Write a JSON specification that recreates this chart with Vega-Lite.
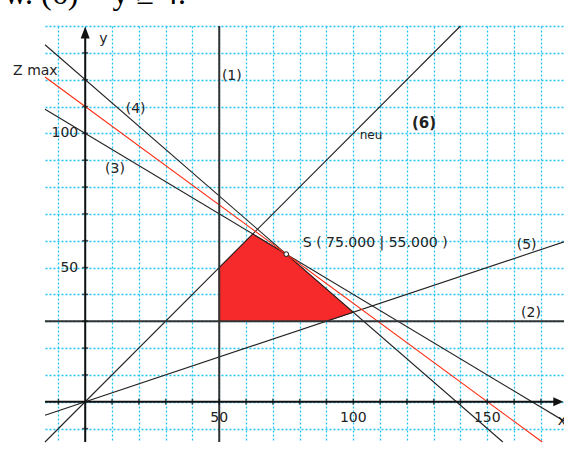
{
  "$schema": "https://vega.github.io/schema/vega-lite/v6.json",
  "width": 520,
  "height": 416,
  "padding": {"left": 45, "top": 26, "right": 0, "bottom": 10},
  "autosize": {"type": "none"},
  "background": "white",
  "config": {"view": {"stroke": null}, "text": {"font": "DejaVu Sans", "fontSize": 14, "color": "#222"}},
  "datasets": {
    "thin": [
      {"line": "(3)", "x": -15, "y": 109}, {"line": "(3)", "x": 179, "y": -7.4},
      {"line": "(4)", "x": -15, "y": 133}, {"line": "(4)", "x": 155.8, "y": -15},
      {"line": "(5)", "x": -15, "y": -5}, {"line": "(5)", "x": 179, "y": 59.7},
      {"line": "neu", "x": -15, "y": -15}, {"line": "neu", "x": 140, "y": 140}
    ],
    "bold": [
      {"line": "(1)", "x": 50, "y": -15}, {"line": "(1)", "x": 50, "y": 140},
      {"line": "(2)", "x": -15, "y": 30}, {"line": "(2)", "x": 179, "y": 30}
    ],
    "zmax": [{"x": -15, "y": 121}, {"x": 170.5, "y": -15}],
    "axes": [
      {"axis": "x", "x": -15, "y": 0}, {"axis": "x", "x": 176, "y": 0},
      {"axis": "y", "x": 0, "y": -15}, {"axis": "y", "x": 0, "y": 137}
    ],
    "region": [
      {"o": 1, "x": 50, "y": 30}, {"o": 2, "x": 50, "y": 50}, {"o": 3, "x": 62.5, "y": 62.5},
      {"o": 4, "x": 75, "y": 55}, {"o": 5, "x": 100, "y": 33.33}, {"o": 6, "x": 90, "y": 30},
      {"o": 7, "x": 50, "y": 30}
    ],
    "xticks": [
      {"x": -10, "y": 0}, {"x": 10, "y": 0}, {"x": 20, "y": 0}, {"x": 30, "y": 0}, {"x": 40, "y": 0},
      {"x": 50, "y": 0}, {"x": 60, "y": 0}, {"x": 70, "y": 0}, {"x": 80, "y": 0}, {"x": 90, "y": 0},
      {"x": 100, "y": 0}, {"x": 110, "y": 0}, {"x": 120, "y": 0}, {"x": 130, "y": 0}, {"x": 140, "y": 0},
      {"x": 150, "y": 0}, {"x": 160, "y": 0}, {"x": 170, "y": 0}
    ],
    "yticks": [
      {"x": 0, "y": -10}, {"x": 0, "y": 10}, {"x": 0, "y": 20}, {"x": 0, "y": 30}, {"x": 0, "y": 40},
      {"x": 0, "y": 50}, {"x": 0, "y": 60}, {"x": 0, "y": 70}, {"x": 0, "y": 80}, {"x": 0, "y": 90},
      {"x": 0, "y": 100}, {"x": 0, "y": 110}, {"x": 0, "y": 120}, {"x": 0, "y": 130}
    ],
    "labelsLeft": [
      {"x": 51, "y": 121.5, "t": "(1)"},
      {"x": 162.6, "y": 33, "t": "(2)"},
      {"x": 7.4, "y": 86.6, "t": "(3)"},
      {"x": 15.1, "y": 109, "t": "(4)"},
      {"x": 161, "y": 58.3, "t": "(5)"},
      {"x": 81.2, "y": 59.3, "t": "S ( 75.000 | 55.000 )"},
      {"x": -26.9, "y": 123.4, "t": "Z max"},
      {"x": 5.2, "y": 135.3, "t": "y"},
      {"x": 176.3, "y": -7, "t": "x"}
    ],
    "neu": [{"x": 102.4, "y": 99.4, "t": "neu"}],
    "six": [{"x": 121.9, "y": 104, "t": "(6)"}],
    "ylabels": [{"x": -2.6, "y": 50, "t": "50"}, {"x": -2.6, "y": 100, "t": "100"}],
    "xlabels": [{"x": 50, "y": -6, "t": "50"}, {"x": 100, "y": -6, "t": "100"}, {"x": 150, "y": -6, "t": "150"}],
    "toptext": [{"x": -30.3, "y": 148.3, "t": "w. (6)  − y ≥ 4."}],
    "arrowX": [{"x": 176.5, "y": 0}],
    "arrowY": [{"x": 0, "y": 137.6}],
    "S": [{"x": 75, "y": 55}]
  },
  "encoding": {
    "x": {"field": "x", "type": "quantitative", "scale": {"domain": [-15, 179], "nice": false, "zero": false},
      "axis": {"values": [-10, 0, 10, 20, 30, 40, 50, 60, 70, 80, 90, 100, 110, 120, 130, 140, 150, 160, 170],
        "grid": true, "gridColor": "#22c4f4", "gridDash": [2, 2], "gridWidth": 1.3, "domain": false, "labels": false, "ticks": false, "title": null}},
    "y": {"field": "y", "type": "quantitative", "scale": {"domain": [-15, 140], "nice": false, "zero": false},
      "axis": {"values": [-10, 0, 10, 20, 30, 40, 50, 60, 70, 80, 90, 100, 110, 120, 130, 140],
        "grid": true, "gridColor": "#22c4f4", "gridDash": [2, 2], "gridWidth": 1.3, "domain": false, "labels": false, "ticks": false, "title": null}}
  },
  "layer": [
    {"data": {"name": "region"}, "mark": {"type": "line", "fill": "#f62a2a", "stroke": "#f62a2a", "strokeWidth": 1}, "encoding": {"order": {"field": "o", "type": "quantitative"}}},
    {"data": {"name": "thin"}, "mark": {"type": "line", "color": "#222", "strokeWidth": 1.1}, "encoding": {"detail": {"field": "line"}}},
    {"data": {"name": "zmax"}, "mark": {"type": "line", "color": "#ff2a10", "strokeWidth": 1.1}, "encoding": {}},
    {"data": {"name": "bold"}, "mark": {"type": "line", "color": "#333", "strokeWidth": 2}, "encoding": {"detail": {"field": "line"}}},
    {"data": {"name": "axes"}, "mark": {"type": "line", "color": "#111", "strokeWidth": 2}, "encoding": {"detail": {"field": "axis"}}},
    {"data": {"name": "xticks"}, "mark": {"type": "tick", "orient": "vertical", "color": "#111", "size": 6, "thickness": 1.5}},
    {"data": {"name": "yticks"}, "mark": {"type": "tick", "orient": "horizontal", "color": "#111", "size": 6, "thickness": 1.5}},
    {"data": {"name": "arrowX"}, "mark": {"type": "point", "shape": "M1,0L-1,0.9L-1,-0.9Z", "filled": true, "color": "#111", "size": 100, "opacity": 1}},
    {"data": {"name": "arrowY"}, "mark": {"type": "point", "shape": "M0,-1L0.75,1L-0.75,1Z", "filled": true, "color": "#111", "size": 144, "opacity": 1}},
    {"data": {"name": "S"}, "mark": {"type": "point", "filled": true, "fill": "white", "stroke": "#111", "strokeWidth": 1, "size": 22, "opacity": 1}},
    {"data": {"name": "labelsLeft"}, "mark": {"type": "text", "align": "left", "baseline": "middle"}, "encoding": {"text": {"field": "t"}}},
    {"data": {"name": "neu"}, "mark": {"type": "text", "align": "left", "baseline": "middle", "fontSize": 12}, "encoding": {"text": {"field": "t"}}},
    {"data": {"name": "six"}, "mark": {"type": "text", "align": "left", "baseline": "middle", "fontSize": 15, "fontWeight": "bold"}, "encoding": {"text": {"field": "t"}}},
    {"data": {"name": "ylabels"}, "mark": {"type": "text", "align": "right", "baseline": "middle"}, "encoding": {"text": {"field": "t"}}},
    {"data": {"name": "xlabels"}, "mark": {"type": "text", "align": "center", "baseline": "middle"}, "encoding": {"text": {"field": "t"}}},
    {"data": {"name": "toptext"}, "mark": {"type": "text", "align": "left", "baseline": "alphabetic", "font": "Liberation Serif", "fontSize": 32, "color": "#000"}, "encoding": {"text": {"field": "t"}}}
  ]
}
